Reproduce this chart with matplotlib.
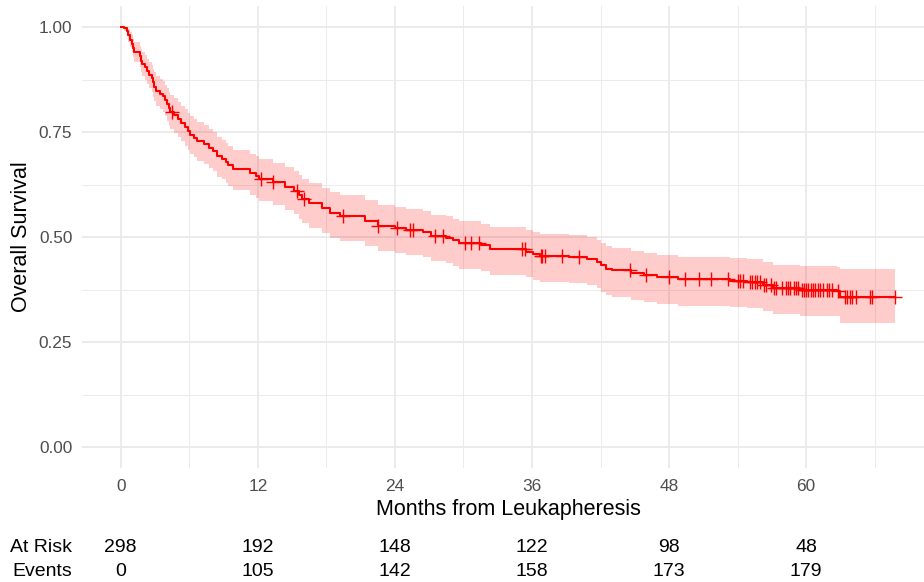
import numpy as np
import matplotlib
matplotlib.use("Agg")
import matplotlib.pyplot as plt
from matplotlib.ticker import MultipleLocator
import matplotlib.transforms as mtransforms

plt.rcParams['font.family'] = ['Liberation Sans', 'DejaVu Sans']

# ---- data ----
times = [0, 0.3, 0.55, 0.65, 0.8, 0.95, 1.05, 1.2, 1.65, 1.75, 1.85, 2.1, 2.3, 2.45, 2.7,
         2.85, 2.95, 3.05, 3.4, 3.7, 3.9, 4.05, 4.2, 4.35, 4.7, 5.0, 5.3, 5.6, 5.85, 6.05,
         6.4, 6.7, 7.3, 7.7, 8.1, 8.4, 8.9, 9.2, 9.4, 9.8, 11.3, 11.8, 12.1,
         13.3, 14.4, 15.2, 15.6, 15.9, 16.5, 17.6, 18.3, 19.2, 21.4, 22.5, 24.0, 25.0, 26.5,
         27.2, 28.5, 29.1, 29.6, 31.5, 32.3, 35.5, 36.1, 36.7, 39.2, 40.8, 41.7, 42.0, 42.5,
         43.0, 44.7, 45.8, 46.9, 48.8, 53.3, 54.8, 56.2, 57.1, 59.5, 62.7, 63.0, 67.8]
surv = [1.000, 0.997, 0.990, 0.980, 0.970, 0.960, 0.950, 0.940, 0.930, 0.920, 0.913, 0.905,
        0.895, 0.886, 0.878, 0.868, 0.858, 0.848, 0.841, 0.835, 0.826, 0.816, 0.806, 0.798,
        0.790, 0.782, 0.772, 0.762, 0.752, 0.744, 0.736, 0.729, 0.722, 0.713, 0.704, 0.692,
        0.686, 0.678, 0.671, 0.662, 0.652, 0.645, 0.639,
        0.630, 0.620, 0.610, 0.600, 0.590, 0.580, 0.568, 0.557, 0.550, 0.538, 0.526, 0.521,
        0.517, 0.512, 0.503, 0.498, 0.492, 0.486, 0.480, 0.471, 0.465, 0.460, 0.455, 0.452,
        0.447, 0.441, 0.433, 0.425, 0.421, 0.415, 0.410, 0.404, 0.399, 0.396, 0.393, 0.386,
        0.378, 0.374, 0.372, 0.357, 0.357]
upper = [1.000, 1.000, 1.000, 0.995, 0.988, 0.980, 0.972, 0.964, 0.955, 0.947, 0.941, 0.934,
         0.925, 0.917, 0.910, 0.901, 0.892, 0.883, 0.877, 0.871, 0.863, 0.854, 0.845, 0.837,
         0.830, 0.822, 0.813, 0.804, 0.795, 0.787, 0.780, 0.773, 0.766, 0.758, 0.749, 0.738,
         0.732, 0.724, 0.717, 0.708, 0.698, 0.692, 0.686,
         0.677, 0.667, 0.657, 0.647, 0.638, 0.628, 0.617, 0.606, 0.599, 0.587, 0.576, 0.571,
         0.567, 0.562, 0.553, 0.550, 0.544, 0.538, 0.532, 0.523, 0.517, 0.513, 0.507, 0.504,
         0.499, 0.493, 0.486, 0.478, 0.473, 0.467, 0.462, 0.457, 0.453, 0.450, 0.447, 0.441,
         0.433, 0.430, 0.428, 0.423, 0.423]
lower = [1.000, 0.990, 0.978, 0.965, 0.952, 0.940, 0.928, 0.916, 0.904, 0.892, 0.884, 0.875,
         0.864, 0.854, 0.845, 0.834, 0.823, 0.812, 0.804, 0.797, 0.787, 0.776, 0.765, 0.757,
         0.748, 0.739, 0.728, 0.717, 0.707, 0.698, 0.690, 0.682, 0.675, 0.665, 0.656, 0.643,
         0.637, 0.628, 0.621, 0.611, 0.600, 0.592, 0.585,
         0.576, 0.565, 0.554, 0.543, 0.533, 0.522, 0.510, 0.498, 0.490, 0.478, 0.466, 0.461,
         0.457, 0.452, 0.442, 0.437, 0.431, 0.425, 0.419, 0.410, 0.404, 0.398, 0.393, 0.390,
         0.385, 0.378, 0.370, 0.361, 0.357, 0.351, 0.346, 0.341, 0.336, 0.333, 0.330, 0.323,
         0.316, 0.313, 0.311, 0.296, 0.296]
censor_times = [4.5, 12.3, 13.3, 15.4, 16.0, 19.5, 22.5, 24.2, 25.3, 25.6, 27.5, 28.2, 30.1,
                30.7, 31.4, 35.1, 35.4, 36.8, 36.9, 37.1, 38.6, 40.1, 44.6, 46.0, 48.0, 49.4,
                50.6, 51.7, 53.2, 54.0, 54.2, 54.5, 55.1, 55.3, 55.5, 55.7, 56.0, 56.3, 56.5,
                56.9, 57.2, 57.4, 57.9, 58.2, 58.4, 58.6, 58.9, 59.1, 59.3, 59.6, 59.8, 60.0,
                60.2, 60.4, 60.6, 60.8, 61.0, 61.2, 61.5, 61.8, 62.0, 62.3, 62.8, 63.4, 63.6,
                63.8, 64.0, 64.4, 65.6, 65.8, 67.8]
table_times = [0, 12, 24, 36, 48, 60]
at_risk = [298, 192, 148, 122, 98, 48]
events = [0, 105, 142, 158, 173, 179]
x_ticks = [0, 12, 24, 36, 48, 60]
y_ticks = [0.00, 0.25, 0.50, 0.75, 1.00]

# ---- figure ----
W, H = 924, 582
fig = plt.figure(figsize=(W / 100, H / 100), dpi=100)
ax = fig.add_axes([82 / W, 1 - 468 / H, (934 - 82) / W, 462 / H])

ax.fill_between(times, lower, upper, step='post', color='red', alpha=0.2, linewidth=0)
ax.step(times, surv, where='post', color='red', linewidth=1.5)

idx = np.searchsorted(np.array(times), np.array(censor_times), side='right') - 1
cens_y = np.array(surv)[idx]
ax.plot(censor_times, cens_y, linestyle='none', marker='+', color='red',
        markersize=10, markeredgewidth=1.0)

ax.set_xlim(-3.39, 71.19)
ax.set_ylim(-0.05, 1.05)
ax.set_xticks(x_ticks)
ax.set_yticks(y_ticks)
ax.set_yticklabels([f"{v:.2f}" for v in y_ticks])
ax.xaxis.set_minor_locator(MultipleLocator(6))
ax.yaxis.set_minor_locator(MultipleLocator(0.125))
ax.grid(which='major', color='#EBEBEB', linewidth=1.4)
ax.grid(which='minor', color='#EBEBEB', linewidth=0.7)
ax.set_axisbelow(True)
for s in ax.spines.values():
    s.set_visible(False)
ax.tick_params(which='both', length=0)
ax.tick_params(axis='y', labelsize=12.4, labelcolor='#4D4D4D', pad=7)
ax.tick_params(axis='x', labelsize=12.4, labelcolor='#4D4D4D', pad=8)

ax.set_xlabel("Months from Leukapheresis", fontsize=15.5, color='black')
ax.xaxis.set_label_coords(0.5, (468 - 509) / 462)
ax.xaxis.label.set_va('center')
ax.set_ylabel("Overall Survival", fontsize=15.5, color='black')
ax.yaxis.set_label_coords((22 - 82) / (934 - 82), 0.5)
ax.yaxis.label.set_va('center')

# risk table
trans = mtransforms.blended_transform_factory(ax.transData, fig.transFigure)
y_risk = 1 - 547 / H
y_ev = 1 - 571 / H
fig.text(72 / W, y_risk, "At Risk", ha='right', va='center', fontsize=14, color='black')
fig.text(72 / W, y_ev, "Events", ha='right', va='center', fontsize=14, color='black')
for t, r, e in zip(table_times, at_risk, events):
    fig.text(t, y_risk, str(r), transform=trans, ha='center', va='center', fontsize=14,
             color='black')
    fig.text(t, y_ev, str(e), transform=trans, ha='center', va='center', fontsize=14,
             color='black')

fig.savefig("out.png", dpi=100, facecolor='white')
